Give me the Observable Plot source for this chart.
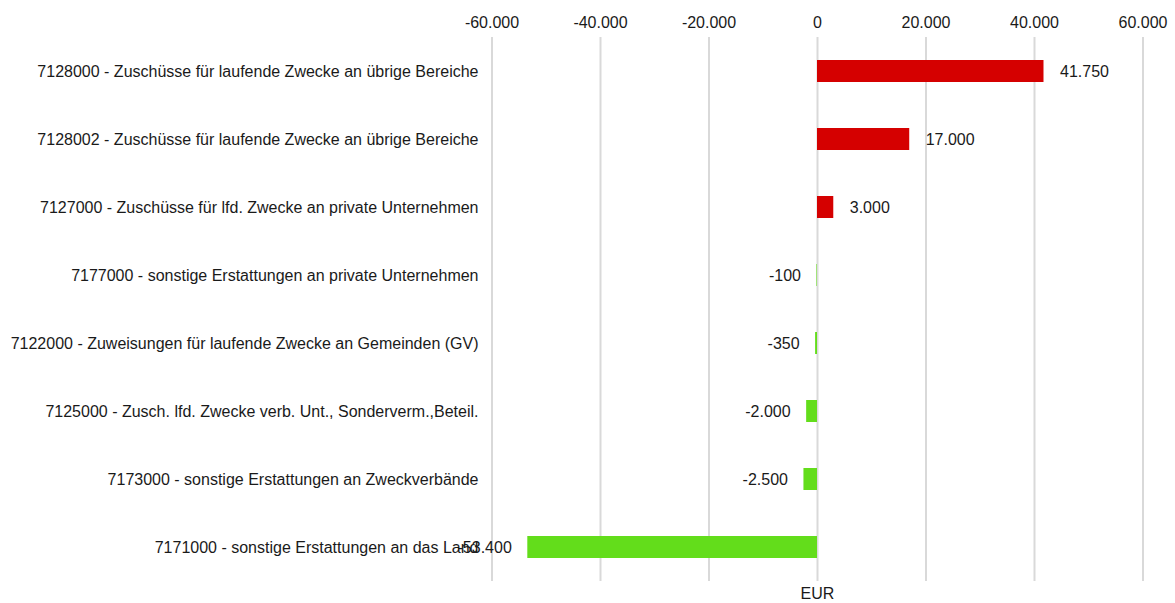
<!DOCTYPE html>
<html>
<head>
<meta charset="utf-8">
<script src="https://cdn.jsdelivr.net/npm/d3@7"></script>
<script src="https://cdn.jsdelivr.net/npm/@observablehq/plot@0.6"></script>
<style>
  body { margin: 0; background: #fff; }
  svg { font-family: "Liberation Sans", Arial, sans-serif; }
</style>
</head>
<body>
<div id="chart"></div>
<script>
const categories = [
  "7128000 - Zuschüsse für laufende Zwecke an übrige Bereiche",
  "7128002 - Zuschüsse für laufende Zwecke an übrige Bereiche",
  "7127000 - Zuschüsse für lfd. Zwecke an private Unternehmen",
  "7177000 - sonstige Erstattungen an private Unternehmen",
  "7122000 - Zuweisungen für laufende Zwecke an Gemeinden (GV)",
  "7125000 - Zusch. lfd. Zwecke verb. Unt., Sonderverm.,Beteil.",
  "7173000 - sonstige Erstattungen an Zweckverbände",
  "7171000 - sonstige Erstattungen an das Land"
];
const values = [41750, 17000, 3000, -100, -350, -2000, -2500, -53400];
const xTicks = [-60000, -40000, -20000, 0, 20000, 40000, 60000];
const axisUnit = "EUR";

const data = categories.map((c, i) => ({ category: c, value: values[i] }));
const de = d3.formatLocale({ decimal: ",", thousands: ".", grouping: [3], currency: ["", " €"], minus: "-" });
const fmt = de.format(",d");

const chart = Plot.plot({
  width: 1175,
  height: 603,
  marginLeft: 491.5,
  marginRight: 32.5,
  marginTop: 37,
  marginBottom: 22,
  style: { fontFamily: "'Liberation Sans', Arial, sans-serif", fontSize: "16px", color: "#1a1a1a" },
  x: { domain: [-60000, 60000] },
  y: { domain: categories, paddingInner: 0.676, paddingOuter: 0.338 },
  marks: [
    Plot.gridX(xTicks, { stroke: "#d9d9d9", strokeOpacity: 1, strokeWidth: 2 }),
    Plot.axisX({ anchor: "top", ticks: xTicks, tickSize: 0, tickPadding: 10, tickFormat: fmt, fontSize: 16, label: null }),
    Plot.axisY({ tickSize: 0, tickPadding: 13.5, fontSize: 16, label: null }),
    Plot.barX(data, { x: "value", y: "category", fill: d => d.value >= 0 ? "#d50000" : "#63dd1b" }),
    Plot.text(data.filter(d => d.value >= 0), { x: "value", y: "category", text: d => fmt(d.value), textAnchor: "start", dx: 16, fontSize: 16, fill: "#1a1a1a" }),
    Plot.text(data.filter(d => d.value < 0), { x: "value", y: "category", text: d => fmt(d.value), textAnchor: "end", dx: -16, fontSize: 16, fill: "#1a1a1a" }),
    Plot.text([axisUnit], { text: d => d, frameAnchor: "bottom", lineAnchor: "middle", dy: 12, fontSize: 16, fill: "#1a1a1a" })
  ]
});
document.getElementById("chart").appendChild(chart);
</script>
</body>
</html>
